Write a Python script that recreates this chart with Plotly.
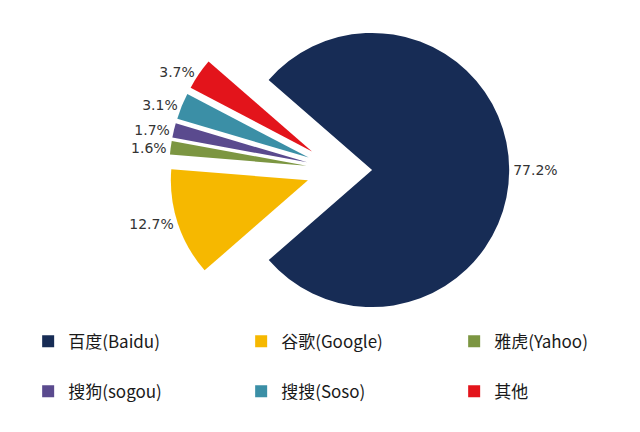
import plotly.graph_objects as go

labels = ["百度(Baidu)", "谷歌(Google)", "雅虎(Yahoo)", "搜狗(sogou)", "搜搜(Soso)", "其他"]
values = [77.2, 12.7, 1.6, 1.7, 3.1, 3.7]
colors = ["#172c55", "#f6b800", "#7c9642", "#5a4a8e", "#3b8fa6", "#e3141b"]
pulls = [0.24, 0.24, 0.24, 0.24, 0.24, 0.24]

# legend names: label text at 17px, with an empty second line to open up the row spacing
legend_names = [f"<span style='font-size:17px'>{l}</span><br> " for l in labels]

fig = go.Figure(go.Pie(
    labels=legend_names,
    values=values,
    sort=False,
    direction="clockwise",
    rotation=-49,
    pull=pulls,
    marker=dict(colors=colors, line=dict(width=0)),
    texttemplate="%{value:.1f}%",
    textposition="outside",
    textfont=dict(family="DejaVu Sans, Arial", size=14, color="#333333"),
    domain=dict(x=[0.06, 1.0], y=[0.213, 1.0]),
    hoverinfo="percent",
))

fig.update_layout(
    width=640, height=432,
    margin=dict(l=0, r=0, t=0, b=0, autoexpand=False),
    paper_bgcolor="white",
    plot_bgcolor="white",
    showlegend=True,
    legend=dict(
        orientation="h",
        x=0.044, xanchor="left",
        y=0.252, yanchor="top",
        entrywidth=168, entrywidthmode="pixels",
        valign="top",
        font=dict(family="Noto Sans CJK SC", size=18, color="#1a1a1a"),
        traceorder="normal",
    ),
)

fig.write_html("out.html", config={"displayModeBar": False},
               post_script="document.body.style.margin='0';")
